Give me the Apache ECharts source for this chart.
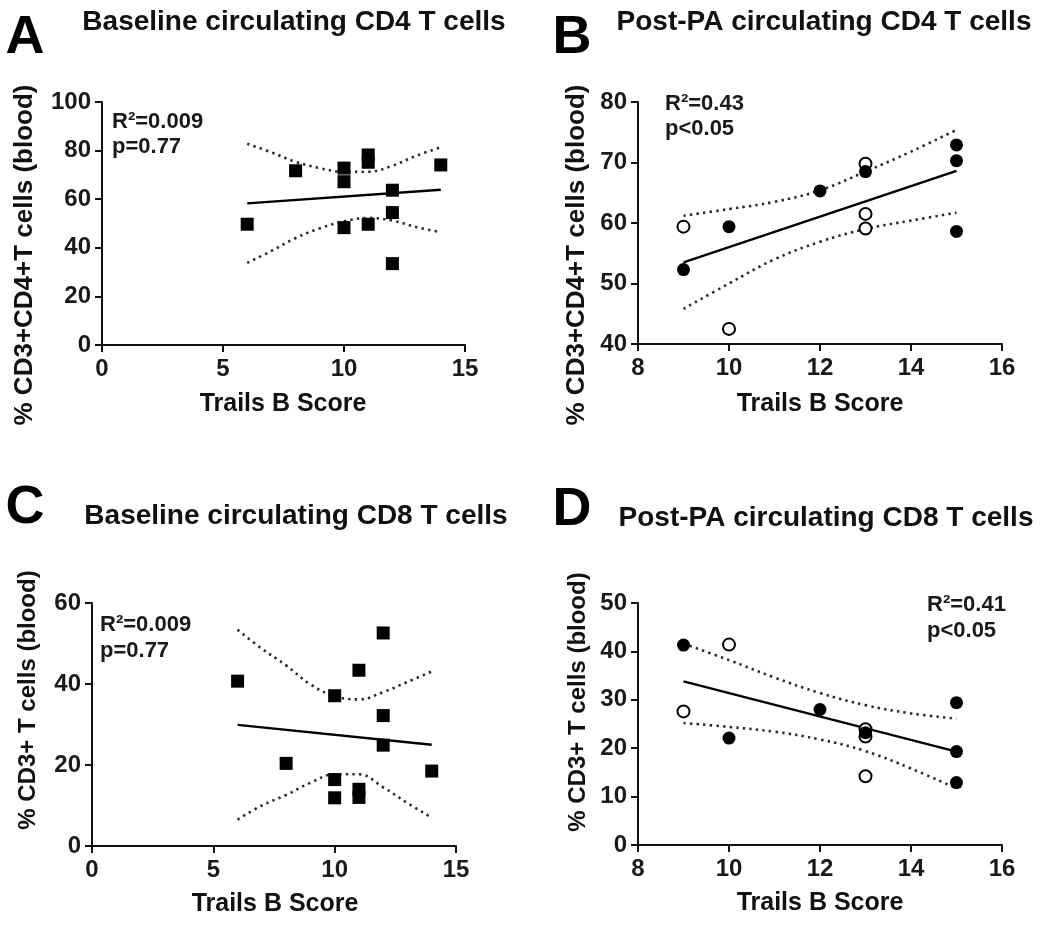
<!DOCTYPE html>
<html><head><meta charset="utf-8">
<script src="https://cdn.jsdelivr.net/npm/echarts@6/dist/echarts.min.js"></script>
<style>html,body{margin:0;padding:0;background:#fff}#c{width:1050px;height:926px}</style>
</head><body><div id="c"></div>
<script>
// ---- Panel A: Baseline CD4 ----
const A_x = [6, 8, 10, 10, 10, 11, 11, 11, 12, 12, 12, 14];
const A_y = [49.7, 71.7, 72.8, 67.2, 48.3, 78.2, 75.2, 49.7, 63.7, 54.5, 33.5, 74.1];
const A_fitX = [6, 14];
const A_fitY = [58.3, 63.9];
const A_ciX = [6, 7, 8, 9, 10, 11, 12, 13, 14];
const A_ciHi = [82.8, 79.3, 75.4, 72.8, 71.3, 71.3, 73.8, 77.9, 81.4];
const A_ciLo = [33.8, 38.7, 44.0, 48.0, 50.9, 52.3, 51.2, 48.5, 46.4];

// ---- Panel B: Post-PA CD4 ----
const B_fillX = [9, 10, 12, 13, 15, 15, 15];
const B_fillY = [52.3, 59.4, 65.3, 68.5, 72.9, 70.3, 58.6];
const B_openX = [9, 10, 13, 13, 13];
const B_openY = [59.4, 42.5, 69.8, 61.5, 59.1];
const B_fitX = [9, 15];
const B_fitY = [53.5, 68.6];
const B_ciX = [9, 10, 11, 12, 13, 14, 15];
const B_ciHi = [61.2, 62.3, 63.5, 65.4, 68.5, 71.8, 75.4];
const B_ciLo = [45.8, 50.0, 54.0, 56.9, 59.0, 60.4, 61.7];

// ---- Panel C: Baseline CD8 ----
const C_x = [6, 8, 10, 10, 10, 11, 11, 11, 12, 12, 12, 14];
const C_y = [40.7, 20.4, 37.1, 16.4, 11.9, 43.4, 14.0, 12.0, 52.6, 32.2, 24.9, 18.5];
const C_fitX = [6, 14];
const C_fitY = [29.9, 25.0];
const C_ciX = [6, 7, 8, 9, 10, 11, 12, 13, 14];
const C_ciHi = [53.4, 48.7, 44.6, 39.9, 37.0, 36.2, 38.0, 40.5, 43.1];
const C_ciLo = [6.5, 10.0, 12.6, 15.6, 17.7, 17.7, 14.5, 10.6, 7.0];

// ---- Panel D: Post-PA CD8 ----
const D_fillX = [9, 10, 12, 13, 15, 15, 15];
const D_fillY = [41.3, 22.1, 28.0, 23.2, 29.4, 19.3, 12.9];
const D_openX = [9, 10, 13, 13, 13];
const D_openY = [27.6, 41.4, 23.9, 22.4, 14.2];
const D_fitX = [9, 15];
const D_fitY = [33.8, 19.3];
const D_ciX = [9, 10, 11, 12, 13, 14, 15];
const D_ciHi = [41.6, 38.2, 34.6, 31.4, 28.9, 27.2, 26.1];
const D_ciLo = [25.2, 24.4, 23.4, 21.8, 19.4, 15.8, 11.7];

// ---- text ----
const panelLetters = ['A', 'B', 'C', 'D'];
const panelTitles = ['Baseline circulating CD4 T cells', 'Post-PA circulating CD4 T cells',
                     'Baseline circulating CD8 T cells', 'Post-PA circulating CD8 T cells'];
const yTitles = ['% CD3+CD4+T cells (blood)', '% CD3+CD4+T cells (blood)',
                 '% CD3+ T cells (blood)', '% CD3+ T cells (blood)'];
const xTitle = 'Trails B Score';
const statR = ['R\u00B2=0.009', 'R\u00B2=0.43', 'R\u00B2=0.009', 'R\u00B2=0.41'];
const statP = ['p=0.77', 'p<0.05', 'p=0.77', 'p<0.05'];

// ---- axis ranges / ticks ----
const xMin = [0, 8, 0, 8], xMax = [15, 16, 15, 16], xInt = [5, 2, 5, 2];
const yMin = [0, 40, 0, 0], yMax = [100, 80, 60, 50], yInt = [20, 10, 20, 10];

const FONT = '"Liberation Sans", Arial, Helvetica, sans-serif';
const INK = '#111';

const zip = (xs, ys) => xs.map((x, i) => [x, ys[i]]);

const grids = [
  {left: 102, top: 102, width: 363, height: 243},
  {left: 638, top: 102, width: 364, height: 242},
  {left: 92, top: 603, width: 364, height: 243},
  {left: 638, top: 603, width: 364, height: 242}
];

const xAxes = grids.map((g, i) => ({
  type: 'value', gridIndex: i, min: xMin[i], max: xMax[i], interval: xInt[i],
  axisLine: {show: true, onZero: false, lineStyle: {color: INK, width: 2}},
  axisTick: {show: true, inside: false, length: 7, lineStyle: {color: INK, width: 2}},
  splitLine: {show: false},
  axisLabel: {color: '#1a1a1a', fontSize: 24, fontWeight: 'bold', fontFamily: FONT, margin: 12}
}));
const yAxes = grids.map((g, i) => ({
  type: 'value', gridIndex: i, min: yMin[i], max: yMax[i], interval: yInt[i],
  axisLine: {show: true, onZero: false, lineStyle: {color: INK, width: 2}},
  axisTick: {show: true, inside: false, length: 7, lineStyle: {color: INK, width: 2}},
  splitLine: {show: false},
  axisLabel: {color: '#1a1a1a', fontSize: 24, fontWeight: 'bold', fontFamily: FONT, margin: 11}
}));

function fitLine(i, xs, ys) {
  return {type: 'line', xAxisIndex: i, yAxisIndex: i, data: zip(xs, ys), symbol: 'none',
    lineStyle: {color: '#000', width: 2.4, opacity: 1}, z: 3, silent: true};
}
function ciLine(i, xs, ys) {
  return {type: 'line', xAxisIndex: i, yAxisIndex: i, data: zip(xs, ys), symbol: 'none', smooth: 0.4,
    lineStyle: {color: '#2a2a2a', width: 2.6, type: [2.4, 4.2], opacity: 1}, z: 2, silent: true};
}
function squares(i, xs, ys) {
  return {type: 'scatter', xAxisIndex: i, yAxisIndex: i, data: zip(xs, ys), symbol: 'rect', symbolSize: 13,
    itemStyle: {color: '#000', opacity: 1}, z: 5, silent: true};
}
function openDots(i, xs, ys) {
  return {type: 'scatter', xAxisIndex: i, yAxisIndex: i, data: zip(xs, ys), symbol: 'circle', symbolSize: 12,
    itemStyle: {color: '#fff', borderColor: '#000', borderWidth: 2, opacity: 1}, z: 5, silent: true};
}
function fillDots(i, xs, ys) {
  return {type: 'scatter', xAxisIndex: i, yAxisIndex: i, data: zip(xs, ys), symbol: 'circle', symbolSize: 13,
    itemStyle: {color: '#000', opacity: 1}, z: 6, silent: true};
}

const series = [
  ciLine(0, A_ciX, A_ciHi), ciLine(0, A_ciX, A_ciLo), fitLine(0, A_fitX, A_fitY), squares(0, A_x, A_y),
  ciLine(1, B_ciX, B_ciHi), ciLine(1, B_ciX, B_ciLo), fitLine(1, B_fitX, B_fitY),
  openDots(1, B_openX, B_openY), fillDots(1, B_fillX, B_fillY),
  ciLine(2, C_ciX, C_ciHi), ciLine(2, C_ciX, C_ciLo), fitLine(2, C_fitX, C_fitY), squares(2, C_x, C_y),
  ciLine(3, D_ciX, D_ciHi), ciLine(3, D_ciX, D_ciLo), fitLine(3, D_fitX, D_fitY),
  openDots(3, D_openX, D_openY), fillDots(3, D_fillX, D_fillY)
];

function txt(x, y, text, size, opts) {
  opts = opts || {};
  return {
    type: 'text', x: x, y: y, rotation: opts.rot || 0, scaleX: opts.sx || 1, scaleY: 1,
    silent: true,
    style: {
      text: text, fill: opts.color || '#111',
      font: (opts.weight || 'bold') + ' ' + size + 'px ' + FONT,
      align: opts.align || 'center', verticalAlign: 'middle',
      textAlign: opts.align || 'center', textVerticalAlign: 'middle'
    }
  };
}

const letterPos = [[25, 38], [572, 38], [25, 508], [572, 510]];
const titlePos = [[294, 22], [824, 22], [296, 516], [826, 518]];
const yTitlePos = [[25, 255], [577, 255], [28, 700], [578, 702]];
const yTitleSize = [26, 26, 24, 24];
const xTitlePos = [[283, 404], [820, 404], [275, 904], [820, 903]];
const statPos = [[112, 122, 147], [665, 104, 129], [100, 625, 651], [927, 605, 631]];

const graphic = [];
for (let i = 0; i < 4; i++) {
  graphic.push(txt(letterPos[i][0], letterPos[i][1], panelLetters[i], 54, {color: '#000'}));
  graphic.push(txt(titlePos[i][0], titlePos[i][1], panelTitles[i], 28, {color: '#111'}));
  graphic.push(txt(yTitlePos[i][0], yTitlePos[i][1], yTitles[i], yTitleSize[i], {rot: Math.PI / 2}));
  graphic.push(txt(xTitlePos[i][0], xTitlePos[i][1], xTitle, 25));
  graphic.push(txt(statPos[i][0], statPos[i][1], statR[i], 22, {align: 'left', color: '#1a1a1a'}));
  graphic.push(txt(statPos[i][0], statPos[i][2], statP[i], 22, {align: 'left', color: '#1a1a1a'}));
}

const chart = echarts.init(document.getElementById('c'), null, {renderer: 'canvas'});
chart.setOption({
  backgroundColor: '#fff',
  animation: false,
  grid: grids,
  xAxis: xAxes,
  yAxis: yAxes,
  series: series,
  graphic: graphic
});
</script></body></html>
